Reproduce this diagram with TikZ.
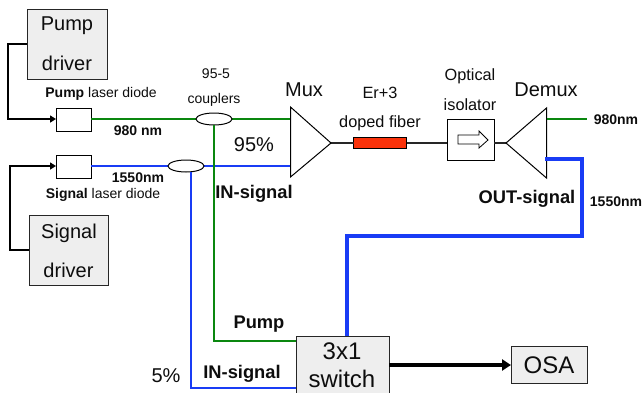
\documentclass[tikz,border=0pt]{standalone}
\usepackage{fontspec}
\setmainfont{Liberation Sans}
\usetikzlibrary{shapes.geometric,arrows.meta}
\definecolor{gline}{RGB}{10,135,15}
\definecolor{bline}{RGB}{25,60,245}
\definecolor{boxgray}{RGB}{238,238,238}
\definecolor{redbox}{RGB}{250,50,10}
\newcommand{\fs}[1]{\fontsize{#1}{#1}\selectfont}
\tikzset{
  every node/.style={inner sep=0pt,outer sep=0pt,text=black!95},
  graybox/.style={draw=black!85,line width=1pt,fill=boxgray},
  whitebox/.style={draw=black,line width=1pt,fill=white},
  coupler/.style={draw=black,line width=1pt,fill=white,ellipse,minimum width=36pt,minimum height=12pt},
  lab/.style={font=\fs{14}},
  blab/.style={font=\fs{14}\bfseries},
  big/.style={font=\fs{20}},
  mid/.style={font=\fs{16.3}},
  bigb/.style={font=\fs{18.3}\bfseries},
  huge/.style={font=\fs{24}},
  wire/.style={line width=1.8pt,draw=black},
  thinw/.style={line width=1.1pt,draw=black!85},
  gw/.style={line width=2.2pt,draw=gline},
  bw/.style={line width=2.2pt,draw=bline},
  bthick/.style={line width=4pt,draw=bline},
  tip/.style={-{Triangle[length=6pt,width=7pt]}},
}
\begin{document}
\begin{tikzpicture}[x=1pt,y=-1pt]
\useasboundingbox (0,0) rectangle (642,392);
\clip (0,0) rectangle (642,392);
\fill[white] (0,0) rectangle (642,392);

% blocks
\node[graybox,minimum width=80pt,minimum height=70pt] (pd) at (67,44) {};
\node[graybox,minimum width=79pt,minimum height=70pt] (sd) at (68.5,250) {};
\node[whitebox,minimum width=35pt,minimum height=23pt] (pl) at (73.5,119.5) {};
\node[whitebox,minimum width=35pt,minimum height=23pt] (sl) at (73.5,166.5) {};
\node[graybox,minimum width=93pt,minimum height=62pt] (sw) at (342.5,367) {};
\node[graybox,minimum width=76pt,minimum height=37pt] (osa) at (549,364.5) {};
\node[whitebox,minimum width=47pt,minimum height=41pt] (iso) at (470.5,139.5) {};
\node[draw=black,line width=1.2pt,fill=redbox,minimum width=53pt,minimum height=11.5pt] (er) at (380,143) {};
\draw[line width=.8pt,draw=black,fill=white] (458,135) -- (479,135) -- (479,131) -- (488,140) -- (479,148) -- (479,144) -- (458,144) -- cycle;

% anchor coordinates
\coordinate (muxt) at (290.5,107);
\coordinate (muxb) at (290.5,177);
\coordinate (muxg) at (290.5,119);
\coordinate (muxs) at (290.5,166);
\coordinate (muxo) at (331,143);
\coordinate (demt) at (546.5,108);
\coordinate (demb) at (546.5,178);
\coordinate (demg) at (546.5,119);
\coordinate (dems) at (545,159);
\coordinate (demi) at (506,143);
\coordinate (gend) at (587,119);
\coordinate (c1) at (214,119);
\coordinate (c2) at (186,166);

% electrical
\draw[wire,tip] (pd.west|-0,44) -- (8,44) -- (8,119) -- (pl.west|-0,119);
\draw[wire,tip] (sd.west|-0,250) -- (10,250) -- (10,166) -- (sl.west|-0,166);

% fibres
\draw[gw] (pl.east|-0,119) -- (muxg);
\draw[bw] (sl.east|-0,166) -- (muxs);
\draw[bw] (191,166) -- (191,388) -- (sw.west|-0,388);
\draw[gw] (c1) -- (214,341) -- (sw.west|-0,341);
\draw[thinw] (muxo) -- (er.west|-0,143);
\draw[thinw] (er.east|-0,143) -- (iso.west|-0,143);
\draw[thinw] (iso.east|-0,143) -- (demi);
\draw[bthick] (dems) -- (582,159) -- (582,236) -- (347,236) -- (347,336);
\draw[line width=4pt,-{Triangle[length=9pt,width=11pt]}] (sw.east|-0,365) -- (osa.west|-0,365);

% couplers
\node[coupler] (cp2) at (c2) {};
\node[coupler] (cp1) at (c1) {};
\draw[gw] (cp1.south) -- (214,180);
\draw[bw] (191,172) -- (191,180);

% mux, demux
\draw[line width=1pt,draw=black,fill=white] (muxt) -- (muxo) -- (muxb) -- cycle;
\draw[line width=1pt,draw=black,fill=white] (demt) -- (demi) -- (demb) -- cycle;
\draw[gw] (demg) -- (gend);
\draw[bthick] (dems) -- (582,159);

% texts
\node[big] (t1) at (67,26) {Pump};
\node[big] (t2) at (67,63) {driver};
\node[big] (t3) at (69,233) {Signal};
\node[big] (t4) at (68.5,270) {driver};
\node[lab] (t5) at (101,94) {\textbf{Pump} laser diode};
\node[lab] (t6) at (103,195) {\textbf{Signal} laser diode};
\node[blab] (t7) at (138,131) {980 nm};
\node[blab] (t8) at (138,178) {1550nm};
\node[lab] (t9) at (216,74) {95-5};
\node[lab] (t10) at (214,100) {couplers};
\node[big] (t11) at (304,90) {Mux};
\node[big] (t12) at (254,145) {95\%};
\node[bigb] (t13) at (254,194) {IN-signal};
\node[mid] (t14) at (380,93) {Er+3};
\node[mid] (t15) at (380,123) {doped fiber};
\node[mid] (t16) at (470,76) {Optical};
\node[mid] (t17) at (470,105) {isolator};
\node[big] (t18) at (546,90) {Demux};
\node[blab] (t19) at (616,120) {980nm};
\node[bigb] (t20) at (527,199) {OUT-signal};
\node[blab] (t21) at (616,202) {1550nm};
\node[bigb] (t22) at (259,324) {Pump};
\node[big] (t23) at (166,376) {5\%};
\node[bigb] (t24) at (242,374) {IN-signal};
\node[huge] (t25) at (342,351) {3x1};
\node[huge] (t26) at (342,379) {switch};
\node[huge] (t27) at (549,365) {OSA};
\end{tikzpicture}
\end{document}
